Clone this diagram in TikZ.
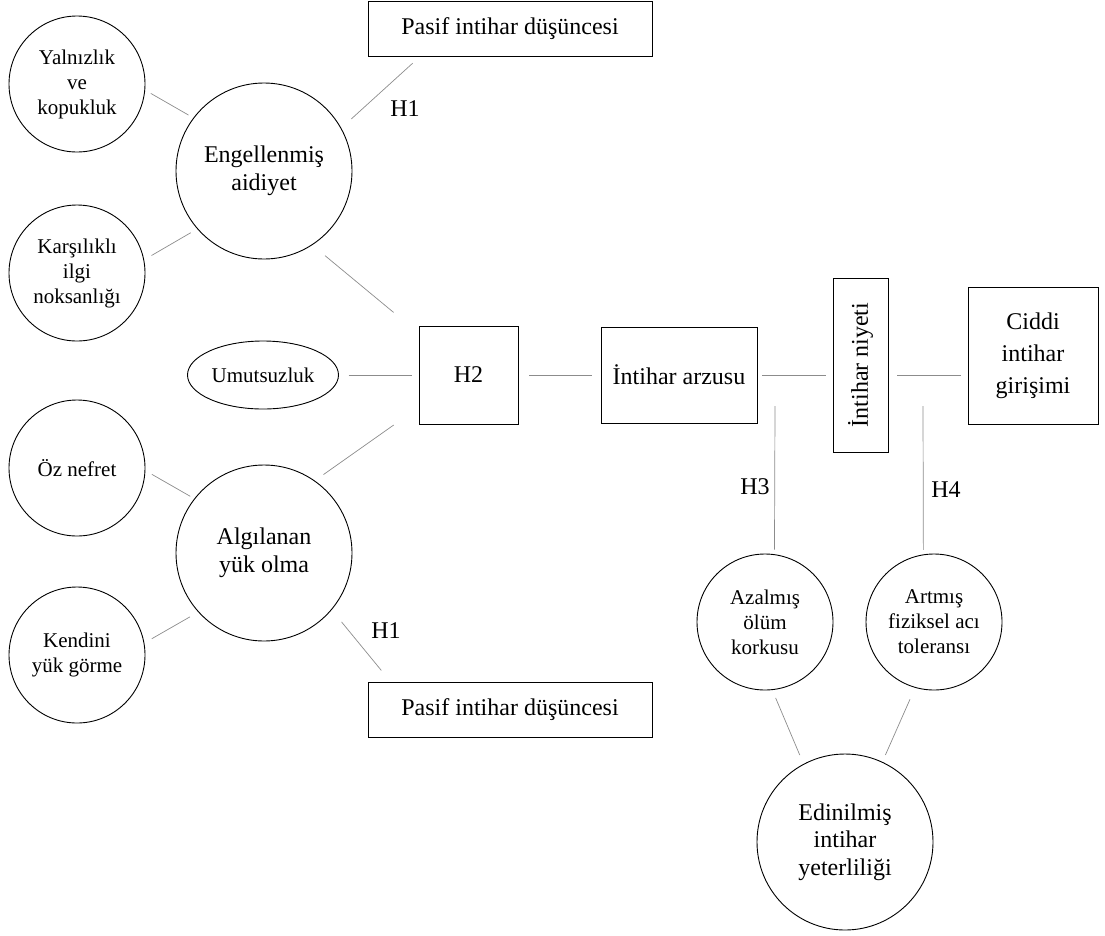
\documentclass[tikz,border=0pt]{standalone}
\usepackage{fontspec}
\setmainfont{Liberation Serif}
\usetikzlibrary{shapes.geometric}
\begin{document}
\begin{tikzpicture}[x=1pt,y=-1pt,
  every node/.style={inner sep=0pt,outer sep=0pt},
  bigfont/.style={font=\fontsize{24}{27.5}\selectfont},
  smallfont/.style={font=\fontsize{21}{25}\selectfont},
  smallc/.style={circle,draw,line width=0.9pt,minimum size=136pt,align=center,smallfont},
  bigc/.style={circle,draw,line width=0.9pt,minimum size=176pt,align=center,bigfont},
  boxn/.style={rectangle,draw,line width=0.9pt,align=center,bigfont},
  conn/.style={draw=black!45,line width=0.7pt},
  lbl/.style={bigfont}]
\useasboundingbox (0,0) rectangle (1105,935);

% left side
\node[smallc] (yal) at (77,84) {Yalnızlık\\ve\\kopukluk};
\node[smallc] (kar) at (77,273) {Karşılıklı\\ilgi\\noksanlığı};
\node[bigc] (eng) at (264,171) {Engellenmiş\\aidiyet};
\node[ellipse,draw,line width=0.9pt,minimum width=151pt,minimum height=68pt,smallfont] (umu) at (263,375) {Umutsuzluk};
\node[smallc] (oz) at (77,468) {Öz nefret};
\node[bigc] (alg) at (264,553) {Algılanan\\yük olma};
\node[smallc] (ken) at (77,655) {Kendini\\yük görme};

% boxes
\node[boxn,minimum width=284pt,minimum height=55pt] (p1) at (510,29) {Pasif intihar düşüncesi};
\node[boxn,minimum width=284pt,minimum height=55pt] (p2) at (510,709.5) {Pasif intihar düşüncesi};
\node[boxn,minimum width=99pt,minimum height=98pt] (h2) at (468.5,375) {H2};
\node[boxn,minimum width=156pt,minimum height=96pt] (arz) at (679,375) {İntihar arzusu};
\node[boxn,rotate=90,minimum width=174pt,minimum height=55pt] (niy) at (860.5,365) {İntihar niyeti};
\node[boxn,minimum width=130pt,minimum height=137pt,font=\fontsize{24}{32}\selectfont] (cid) at (1033,355.5) {Ciddi\\intihar\\girişimi};

% right bottom circles
\node[smallc] (aza) at (765,622) {Azalmış\\ölüm\\korkusu};
\node[smallc] (art) at (934,622) {Artmış\\fiziksel acı\\toleransı};
\node[bigc] (edi) at (845,842) {Edinilmiş\\intihar\\yeterliliği};

% labels
\node[lbl] (l1) at (405,109) {H1};
\node[lbl] (l2) at (386,631) {H1};
\node[lbl] (l3) at (755,487) {H3};
\node[lbl] (l4) at (946,490) {H4};

\coordinate (h3top) at (775,406);
\coordinate (h4top) at (923,406);

% connectors
\draw[conn,shorten <=7pt,shorten >=6pt] (yal.-5) -- (eng.143);
\draw[conn,shorten <=9pt,shorten >=8pt] (kar.11) -- (eng.221);
\draw[conn,shorten <=14pt,shorten >=10pt] (eng.29) -- (p1.197);
\draw[conn,shorten <=17pt,shorten >=33pt] (eng.-57) -- (h2.140);
\draw[conn,shorten <=11pt,shorten >=31pt] (alg.55) -- (h2.213);
\draw[conn,shorten <=8pt,shorten >=5pt] (oz.-2) -- (alg.142);
\draw[conn,shorten <=9pt,shorten >=10pt] (ken.10) -- (alg.222);
\draw[conn,shorten <=16pt,shorten >=15pt] (alg.-40) -- (p2.167);
\draw[conn,shorten <=10pt,shorten >=7pt] (umu.east) -- (h2.west);
\draw[conn,shorten <=11pt,shorten >=9pt] (h2.east) -- (arz.west);
\draw[conn,shorten <=5pt,shorten >=7pt] (arz.east) -- (arz.east -| niy.north);
\draw[conn,shorten <=9pt,shorten >=7pt] (arz.east -| niy.south) -- (arz.east -| cid.west);
\draw[conn,shorten <=5pt] (aza.82) -- (h3top);
\draw[conn,shorten <=5pt] (art.99) -- (h4top);
\draw[conn,shorten <=9pt,shorten >=10pt] (aza.-84) -- (edi.118);
\draw[conn,shorten <=13pt,shorten >=8pt] (art.254) -- (edi.65);
\end{tikzpicture}
\end{document}
